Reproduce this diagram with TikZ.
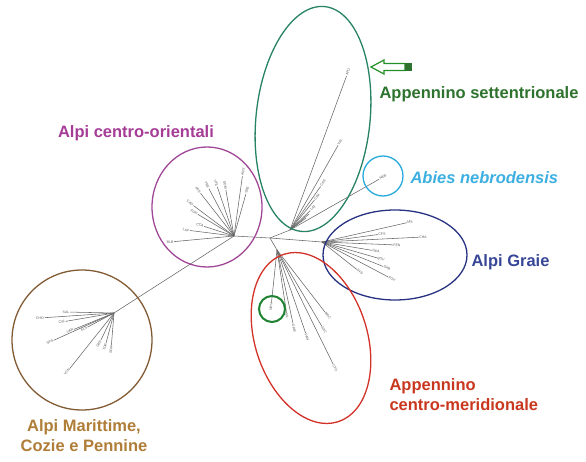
\documentclass[tikz,border=0pt]{standalone}
\usepackage{fontspec}
\setmainfont{Liberation Sans}
\usetikzlibrary{positioning}

\definecolor{settC}{RGB}{40,130,100}
\definecolor{settT}{RGB}{45,115,45}
\definecolor{nebC}{RGB}{40,170,220}
\definecolor{nebT}{RGB}{60,175,225}
\definecolor{graC}{RGB}{40,50,130}
\definecolor{graT}{RGB}{55,70,150}
\definecolor{merC}{RGB}{210,50,40}
\definecolor{merT}{RGB}{200,55,30}
\definecolor{nrvC}{RGB}{30,130,50}
\definecolor{oriC}{RGB}{160,70,150}
\definecolor{oriT}{RGB}{165,60,150}
\definecolor{marC}{RGB}{130,90,50}
\definecolor{marT}{RGB}{175,125,55}

\begin{document}
\begin{tikzpicture}[x=1pt, y=-1pt,
  branch/.style={draw=black!60, line width=0.55pt},
  tip/.style={font=\fontsize{3.5}{3.5}\selectfont, text=black!65, inner sep=0.5pt, sloped},
  group/.style={line width=1.3pt},
  grouplabel/.style={font=\fontsize{16.5}{20}\selectfont\bfseries, align=left}]
  \useasboundingbox (0,0) rectangle (586,462);

  % inner nodes of the tree
  \coordinate (root) at (270,238);
  \coordinate (ori) at (234,236);
  \coordinate (mar) at (114,313);
  \coordinate (sett) at (290,230);
  \coordinate (gra) at (322,242);
  \coordinate (mer) at (277,250);
  \draw[branch] (mar) -- (ori) -- (root) -- (sett);
  \draw[branch] (root) -- (gra);
  \draw[branch] (root) -- (mer);

  % Appennino settentrionale
  \foreach \x/\y/\l [count=\i] in {348/72/APU, 340/142/VAL, 323/183/CAS, 317/197/CIM, 313/208/LAT}{
    \path (sett) -- (\x,\y) node[tip, pos=1] (s\i) {\l};
    \draw[branch] (sett) -- (s\i);
  }
  \draw[branch] (sett) -- (309,214);
  \draw[branch] (sett) -- (306,218);
  \path (sett) -- (383,177) node[tip, pos=1] (neb) {NEB};
  \draw[branch] (sett) -- (neb);

  % Alpi centro-orientali
  \foreach \x/\y/\l [count=\i] in {243/172/ANS, 247/190/SRE, 198/190/PAS, 207/185/TRE,
      216/183/VTE, 225/185/SOM, 190/203/CAD, 194/212/FUN, 200/225/CCA, 186/230/LAV, 170/242/BLB}{
    \path (ori) -- (\x,\y) node[tip, pos=1] (o\i) {\l};
    \draw[branch] (ori) -- (o\i);
  }

  % Alpi Marittime, Cozie e Pennine
  \foreach \x/\y/\l [count=\i] in {40/318/CHO, 66/312/SAL, 62/322/CSL, 70/331/VAR, 50/342/SPS,
      84/329/ELS, 99/344/GRS, 105/347/TOR, 111/350/SOR, 67/372/VCN}{
    \path (mar) -- (\x,\y) node[tip, pos=1] (m\i) {\l};
    \draw[branch] (mar) -- (m\i);
  }

  % Alpi Graie
  \foreach \x/\y/\l [count=\i] in {410/222/MS, 382/234/CFS, 423/237/CHA, 397/245/FEN, 376/251/GPA,
      381/259/BOV, 387/268/SAB, 392/279/FOV, 360/272/SFS}{
    \path (gra) -- (\x,\y) node[tip, pos=1] (g\i) {\l};
    \draw[branch] (gra) -- (g\i);
  }

  % Appennino centro-meridionale
  \foreach \x/\y/\l [count=\i] in {271/307/NRV, 287/316/SIL, 294/328/GAM, 307/337/PAN,
      328/316/MAC, 324/330/SAC, 335/368/CTO}{
    \path (mer) -- (\x,\y) node[tip, pos=1] (c\i) {\l};
    \draw[branch] (mer) -- (c\i);
  }

  % groups
  \draw[group, settC, rotate around={-6:(313,119)}] (313,119) ellipse [x radius=57, y radius=113];
  \draw[group, nebC] (383,176) circle [radius=20];
  \draw[group, graC] (395,255) ellipse [x radius=72, y radius=45];
  \draw[group, merC, rotate around={18:(311,338)}] (311,338) ellipse [x radius=56, y radius=88];
  \draw[group, nrvC, line width=2pt] (272,309) circle [radius=13];
  \draw[group, oriC] (207,207) ellipse [x radius=55, y radius=60];
  \draw[group, marC] (82,340) circle [radius=70];

  % pointer to APU
  \draw[settT!80!green, line width=1.2pt, line join=miter]
    (371,67) -- (384,60) -- (384,63.5) -- (405,63.5) -- (405,70.5) -- (384,70.5) -- (384,74) -- cycle;
  \fill[settT] (405,63) rectangle (412,71);

  % labels
  \node[grouplabel, text=settT, anchor=west] (lsett) at (376,94) {Appennino settentrionale};
  \node[grouplabel, text=nebT, anchor=west] (lneb) at (407,178) {\itshape Abies nebrodensis};
  \node[grouplabel, text=graT, anchor=west] (lgra) at (468,262) {Alpi Graie};
  \node[grouplabel, text=merT, anchor=west] (lmer) at (386,395) {Appennino\\centro-meridionale};
  \node[grouplabel, text=oriT] (lori) at (136,133) {Alpi centro-orientali};
  \node[grouplabel, text=marT, align=center] (lmar) at (84,436) {Alpi Marittime,\\Cozie e Pennine};
\end{tikzpicture}
\end{document}
